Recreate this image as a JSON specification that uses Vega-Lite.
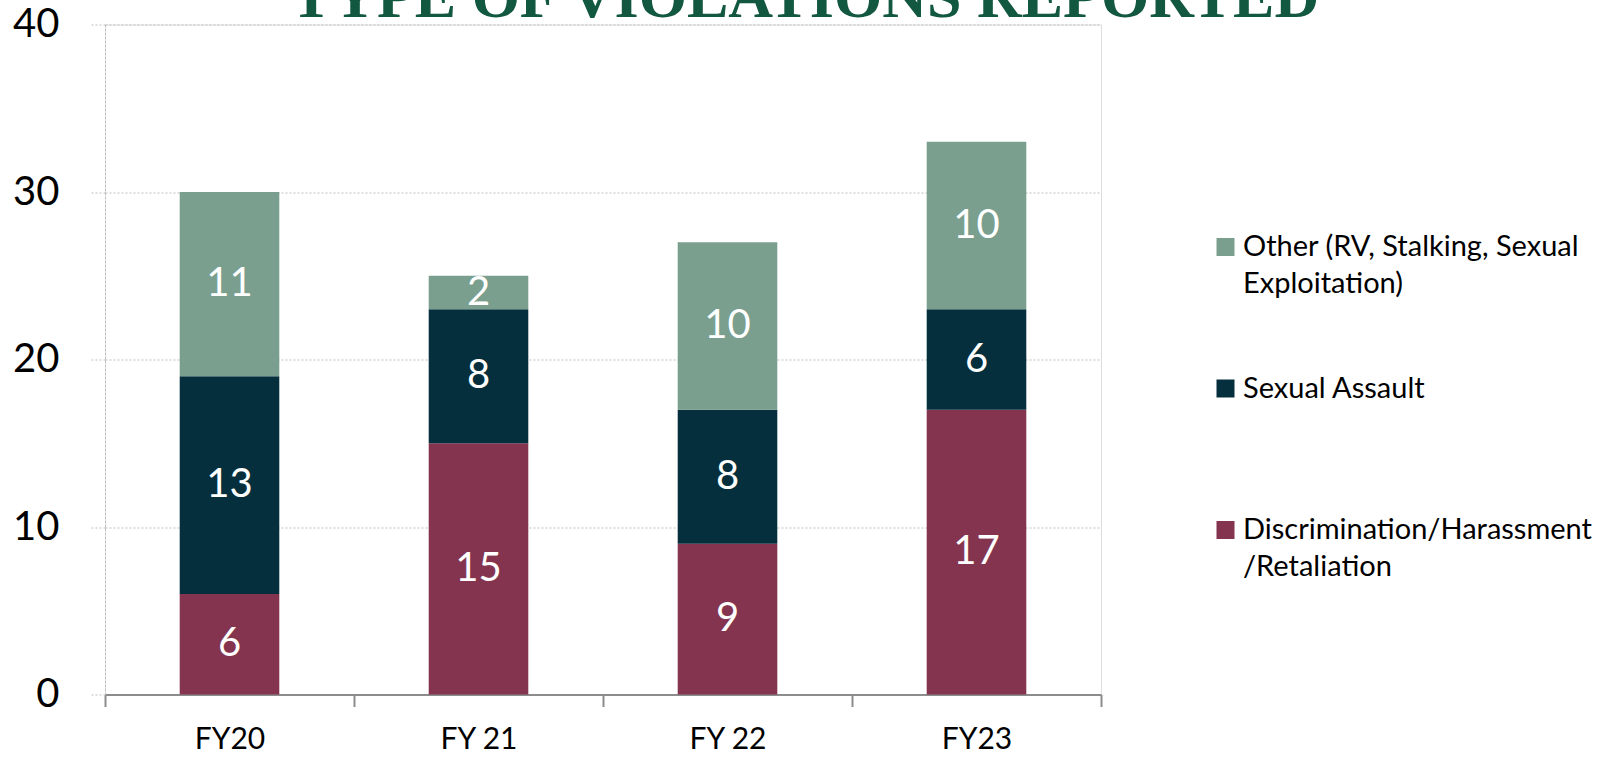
{
  "$schema": "https://vega.github.io/schema/vega-lite/v6.json",
  "autosize": {"type": "none"},
  "width": 996,
  "height": 670,
  "padding": {"left": 105, "top": 24.5, "right": 518, "bottom": 62.5},
  "background": "white",
  "title": {
    "text": "TYPE OF VIOLATIONS REPORTED",
    "font": "Liberation Serif",
    "fontWeight": "bold",
    "fontSize": 62,
    "color": "#12573F",
    "anchor": "middle",
    "frame": "group",
    "dx": 202,
    "dy": 74,
    "baseline": "alphabetic",
    "offset": 0
  },
  "data": {
    "values": [
      {"year": "FY20", "type": "Discrimination/Harassment/Retaliation", "count": 6},
      {"year": "FY20", "type": "Sexual Assault", "count": 13},
      {"year": "FY20", "type": "Other (RV, Stalking, Sexual Exploitation)", "count": 11},
      {"year": "FY 21", "type": "Discrimination/Harassment/Retaliation", "count": 15},
      {"year": "FY 21", "type": "Sexual Assault", "count": 8},
      {"year": "FY 21", "type": "Other (RV, Stalking, Sexual Exploitation)", "count": 2},
      {"year": "FY 22", "type": "Discrimination/Harassment/Retaliation", "count": 9},
      {"year": "FY 22", "type": "Sexual Assault", "count": 8},
      {"year": "FY 22", "type": "Other (RV, Stalking, Sexual Exploitation)", "count": 10},
      {"year": "FY23", "type": "Discrimination/Harassment/Retaliation", "count": 17},
      {"year": "FY23", "type": "Sexual Assault", "count": 6},
      {"year": "FY23", "type": "Other (RV, Stalking, Sexual Exploitation)", "count": 10}
    ]
  },
  "transform": [
    {"calculate": "indexof(['Discrimination/Harassment/Retaliation','Sexual Assault','Other (RV, Stalking, Sexual Exploitation)'], datum.type)", "as": "stackOrder"}
  ],
  "encoding": {
    "x": {
      "field": "year",
      "type": "nominal",
      "sort": ["FY20", "FY 21", "FY 22", "FY23"],
      "scale": {"paddingInner": 0, "paddingOuter": 0},
      "axis": {
        "title": null,
        "labelAngle": 0,
        "labelFont": "Lato",
        "labelFontSize": 30,
        "labelColor": "#000000",
        "labelPadding": 18,
        "domainColor": "#8c8c8c",
        "domainWidth": 2,
        "tickColor": "#8c8c8c",
        "tickWidth": 2,
        "tickSize": 12,
        "tickBand": "extent",
        "grid": false
      }
    },
    "y": {
      "field": "count",
      "type": "quantitative",
      "stack": "zero",
      "scale": {"domain": [0, 40], "nice": false},
      "axis": {
        "title": null,
        "values": [0, 10, 20, 30, 40],
        "labelFont": "Lato",
        "labelFontSize": 40,
        "labelColor": "#000000",
        "labelPadding": 30,
        "grid": true,
        "gridColor": "#bdbdbd",
        "gridDash": [2, 2],
        "gridWidth": 1,
        "domain": true,
        "domainColor": "#bdbdbd",
        "domainDash": [2, 2],
        "domainWidth": 1,
        "tickColor": "#bdbdbd",
        "tickDash": [2, 2],
        "tickSize": 16,
        "tickWidth": 1
      }
    },
    "order": {"field": "stackOrder", "type": "quantitative", "sort": "ascending"}
  },
  "layer": [
    {
      "mark": {"type": "bar", "width": {"band": 0.4}},
      "encoding": {
        "color": {
          "field": "type",
          "type": "nominal",
          "scale": {
            "domain": ["Other (RV, Stalking, Sexual Exploitation)", "Sexual Assault", "Discrimination/Harassment/Retaliation"],
            "range": ["#7A9F8F", "#052F3C", "#84344F"]
          },
          "legend": {
            "title": null,
            "orient": "none",
            "legendX": 1106,
            "legendY": 208,
            "symbolType": "square",
            "symbolSize": 324,
            "symbolStrokeWidth": 0,
            "labelFont": "Lato",
            "labelFontSize": 29,
            "labelColor": "#000000",
            "labelOffset": 3,
            "labelLimit": 400,
            "rowPadding": 74.5,
            "labelExpr": "datum.label == 'Other (RV, Stalking, Sexual Exploitation)' ? ['Other (RV, Stalking, Sexual', 'Exploitation)'] : datum.label == 'Discrimination/Harassment/Retaliation' ? ['Discrimination/Harassment', '/Retaliation'] : [datum.label, '']",
            "encode": {"labels": {"update": {"lineHeight": {"value": 37}}}}
          }
        }
      }
    },
    {
      "mark": {"type": "text", "color": "#ffffff", "font": "Lato", "fontSize": 40, "baseline": "middle"},
      "encoding": {
        "y": {"field": "count", "type": "quantitative", "stack": "zero", "bandPosition": 0.5},
        "text": {"field": "count", "type": "quantitative"}
      }
    }
  ]
}
